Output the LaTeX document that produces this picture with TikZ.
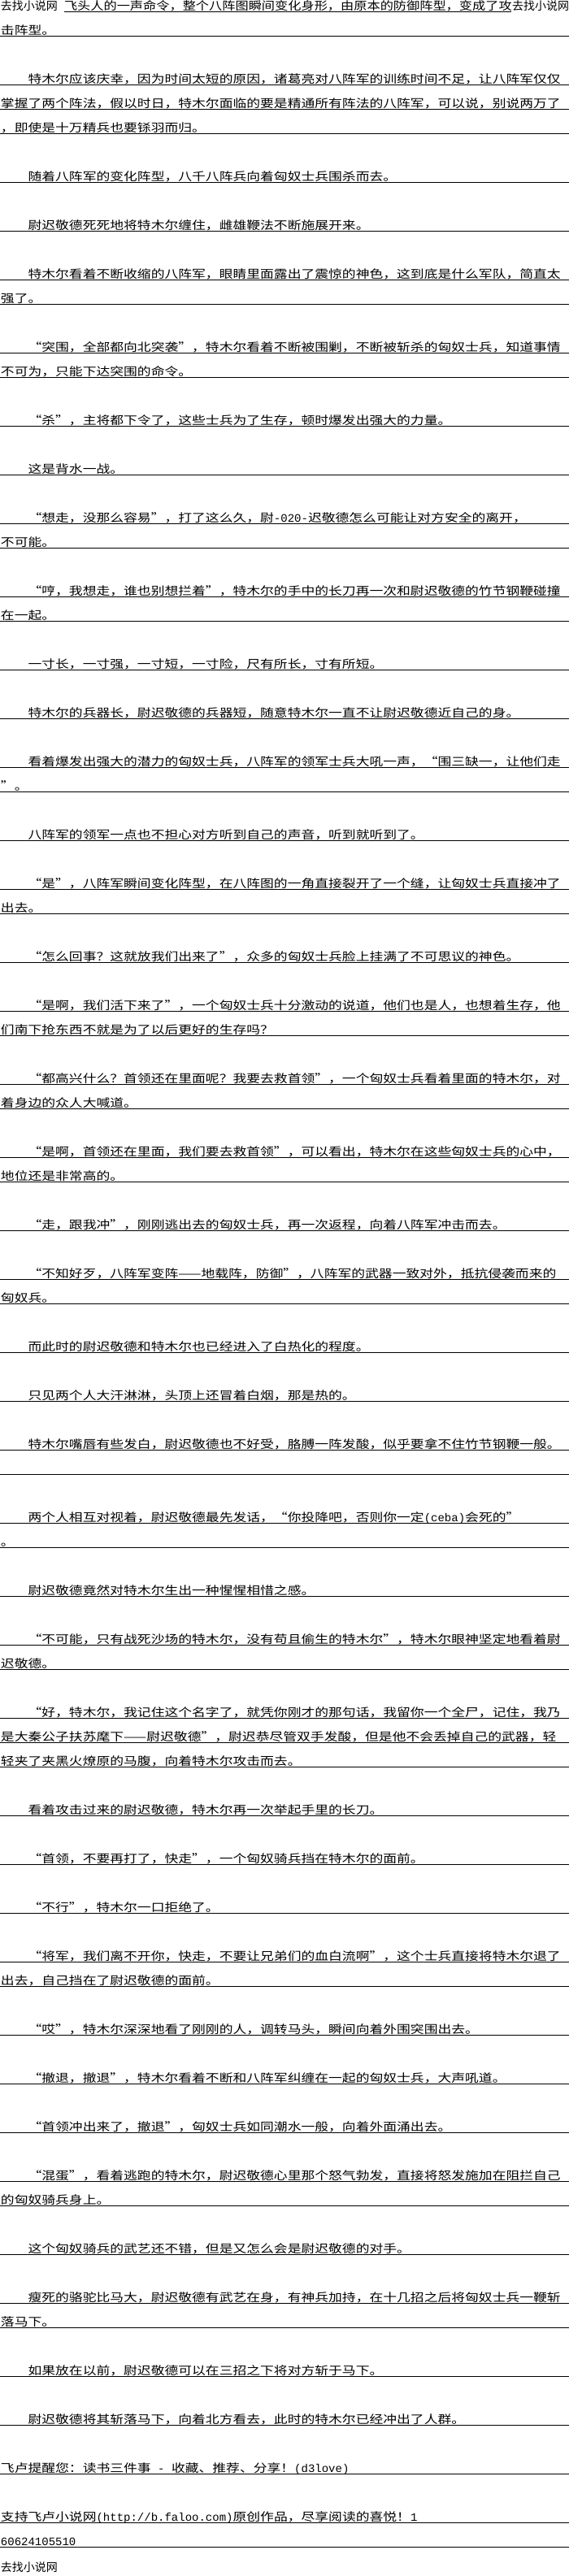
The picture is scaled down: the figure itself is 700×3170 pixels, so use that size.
\documentclass[tikz,border=0pt]{standalone}
\usepackage{fontspec}
\newfontfamily\cjk{Noto Sans CJK SC}[FakeStretch=1.2]
\newfontfamily\cjkb{Noto Sans CJK SC}[FakeStretch=1.157]
\newfontfamily\cjkplain{Noto Sans CJK SC}
\newfontfamily\latfont{Liberation Mono}
\newcommand\latt[1]{{\latfont\fontsize{14}{14}\selectfont #1}}
\newcommand\oq{\makebox[16.8pt][r]{“}}
\newcommand\cq{\makebox[16.8pt][l]{”}}
\tikzset{
  txt/.style={anchor=base west, inner sep=0pt, outer sep=0pt, font=\cjk\fontsize{14}{14}\selectfont},
  rulel/.style={line width=1pt, black}
}
\newcommand\tline[3]{\node[txt] (#1) at (1,{#2-2}) {#3};\draw[rulel] (0,#2) -- (700,#2);}
\begin{document}
\begin{tikzpicture}[x=1pt,y=-1pt]
\fill[white] (0,0) rectangle (700,3170);
\useasboundingbox (0,0) rectangle (700,3170);
% first line
\node[txt, font=\cjkplain\fontsize{14}{14}\selectfont] (h1) at (1,12.3) {去找小说网};
\node[txt, font=\cjkb\fontsize{14}{14}\selectfont] (h2) at (79,12.3) {飞头人的一声命令，整个八阵图瞬间变化身形，由原本的防御阵型，变成了攻};
\node[txt, anchor=base east, font=\cjkplain\fontsize{14}{14}\selectfont] (h3) at (700,12.3) {去找小说网};
\draw[rulel] (79,14.3) -- (629,14.3);
\tline{l1}{44.3}{击阵型。}
\tline{l2}{104.3}{　　特木尔应该庆幸，因为时间太短的原因，诸葛亮对八阵军的训练时间不足，让八阵军仅仅}
\tline{l3}{134.3}{掌握了两个阵法，假以时日，特木尔面临的要是精通所有阵法的八阵军，可以说，别说两万了}
\tline{l4}{164.3}{，即使是十万精兵也要铩羽而归。}
\tline{l5}{224.3}{　　随着八阵军的变化阵型，八千八阵兵向着匈奴士兵围杀而去。}
\tline{l6}{284.3}{　　尉迟敬德死死地将特木尔缠住，雌雄鞭法不断施展开来。}
\tline{l7}{344.3}{　　特木尔看着不断收缩的八阵军，眼睛里面露出了震惊的神色，这到底是什么军队，简直太}
\tline{l8}{374.3}{强了。}
\tline{l9}{434.3}{　　\oq 突围，全部都向北突袭\cq，特木尔看着不断被围剿，不断被斩杀的匈奴士兵，知道事情}
\tline{l10}{464.3}{不可为，只能下达突围的命令。}
\tline{l11}{524.3}{　　\oq 杀\cq，主将都下令了，这些士兵为了生存，顿时爆发出强大的力量。}
\tline{l12}{584.3}{　　这是背水一战。}
\tline{l13}{644.3}{　　\oq 想走，没那么容易\cq，打了这么久，尉\latt{-020-}迟敬德怎么可能让对方安全的离开，}
\tline{l14}{674.3}{不可能。}
\tline{l15}{734.3}{　　\oq 哼，我想走，谁也别想拦着\cq，特木尔的手中的长刀再一次和尉迟敬德的竹节钢鞭碰撞}
\tline{l16}{764.3}{在一起。}
\tline{l17}{824.3}{　　一寸长，一寸强，一寸短，一寸险，尺有所长，寸有所短。}
\tline{l18}{884.3}{　　特木尔的兵器长，尉迟敬德的兵器短，随意特木尔一直不让尉迟敬德近自己的身。}
\tline{l19}{944.3}{　　看着爆发出强大的潜力的匈奴士兵，八阵军的领军士兵大吼一声，\oq 围三缺一，让他们走}
\tline{l20}{974.3}{\cq 。}
\tline{l21}{1034.3}{　　八阵军的领军一点也不担心对方听到自己的声音，听到就听到了。}
\tline{l22}{1094.3}{　　\oq 是\cq，八阵军瞬间变化阵型，在八阵图的一角直接裂开了一个缝，让匈奴士兵直接冲了}
\tline{l23}{1124.3}{出去。}
\tline{l24}{1184.3}{　　\oq 怎么回事？这就放我们出来了\cq，众多的匈奴士兵脸上挂满了不可思议的神色。}
\tline{l25}{1244.3}{　　\oq 是啊，我们活下来了\cq，一个匈奴士兵十分激动的说道，他们也是人，也想着生存，他}
\tline{l26}{1274.3}{们南下抢东西不就是为了以后更好的生存吗？}
\tline{l27}{1334.3}{　　\oq 都高兴什么？首领还在里面呢？我要去救首领\cq，一个匈奴士兵看着里面的特木尔，对}
\tline{l28}{1364.3}{着身边的众人大喊道。}
\tline{l29}{1424.3}{　　\oq 是啊，首领还在里面，我们要去救首领\cq，可以看出，特木尔在这些匈奴士兵的心中，}
\tline{l30}{1454.3}{地位还是非常高的。}
\tline{l31}{1514.3}{　　\oq 走，跟我冲\cq，刚刚逃出去的匈奴士兵，再一次返程，向着八阵军冲击而去。}
\tline{l32}{1574.3}{　　\oq 不知好歹，八阵军变阵——地载阵，防御\cq，八阵军的武器一致对外，抵抗侵袭而来的}
\tline{l33}{1604.3}{匈奴兵。}
\tline{l34}{1664.3}{　　而此时的尉迟敬德和特木尔也已经进入了白热化的程度。}
\tline{l35}{1724.3}{　　只见两个人大汗淋淋，头顶上还冒着白烟，那是热的。}
\tline{l36}{1784.3}{　　特木尔嘴唇有些发白，尉迟敬德也不好受，胳膊一阵发酸，似乎要拿不住竹节钢鞭一般。}
\draw[rulel] (0,1814.3) -- (700,1814.3);
\tline{l37}{1874.3}{　　两个人相互对视着，尉迟敬德最先发话，\oq 你投降吧，否则你一定\latt{(ceba)}会死的\cq}
\tline{l38}{1904.3}{。}
\tline{l39}{1964.3}{　　尉迟敬德竟然对特木尔生出一种惺惺相惜之感。}
\tline{l40}{2024.3}{　　\oq 不可能，只有战死沙场的特木尔，没有苟且偷生的特木尔\cq，特木尔眼神坚定地看着尉}
\tline{l41}{2054.3}{迟敬德。}
\tline{l42}{2114.3}{　　\oq 好，特木尔，我记住这个名字了，就凭你刚才的那句话，我留你一个全尸，记住，我乃}
\tline{l43}{2144.3}{是大秦公子扶苏麾下——尉迟敬德\cq，尉迟恭尽管双手发酸，但是他不会丢掉自己的武器，轻}
\tline{l44}{2174.3}{轻夹了夹黑火燎原的马腹，向着特木尔攻击而去。}
\tline{l45}{2234.3}{　　看着攻击过来的尉迟敬德，特木尔再一次举起手里的长刀。}
\tline{l46}{2294.3}{　　\oq 首领，不要再打了，快走\cq，一个匈奴骑兵挡在特木尔的面前。}
\tline{l47}{2354.3}{　　\oq 不行\cq，特木尔一口拒绝了。}
\tline{l48}{2414.3}{　　\oq 将军，我们离不开你，快走，不要让兄弟们的血白流啊\cq，这个士兵直接将特木尔退了}
\tline{l49}{2444.3}{出去，自己挡在了尉迟敬德的面前。}
\tline{l50}{2504.3}{　　\oq 哎\cq，特木尔深深地看了刚刚的人，调转马头，瞬间向着外围突围出去。}
\tline{l51}{2564.3}{　　\oq 撤退，撤退\cq，特木尔看着不断和八阵军纠缠在一起的匈奴士兵，大声吼道。}
\tline{l52}{2624.3}{　　\oq 首领冲出来了，撤退\cq，匈奴士兵如同潮水一般，向着外面涌出去。}
\tline{l53}{2684.3}{　　\oq 混蛋\cq，看着逃跑的特木尔，尉迟敬德心里那个怒气勃发，直接将怒发施加在阻拦自己}
\tline{l54}{2714.3}{的匈奴骑兵身上。}
\tline{l55}{2774.3}{　　这个匈奴骑兵的武艺还不错，但是又怎么会是尉迟敬德的对手。}
\tline{l56}{2834.3}{　　瘦死的骆驼比马大，尉迟敬德有武艺在身，有神兵加持，在十几招之后将匈奴士兵一鞭斩}
\tline{l57}{2864.3}{落马下。}
\tline{l58}{2924.3}{　　如果放在以前，尉迟敬德可以在三招之下将对方斩于马下。}
\tline{l59}{2984.3}{　　尉迟敬德将其斩落马下，向着北方看去，此时的特木尔已经冲出了人群。}
\tline{l60}{3044.3}{飞卢提醒您：读书三件事\latt{ - }收藏、推荐、分享！\latt{(d3love)}}
\tline{l61}{3104.3}{支持飞卢小说网\latt{(http://b.faloo.com)}原创作品，尽享阅读的喜悦！\latt{1}}
\tline{l62}{3134.3}{\latt{60624105510}}
\node[txt, font=\cjkplain\fontsize{14}{14}\selectfont] (f1) at (1,3164) {去找小说网};
\end{tikzpicture}
\end{document}
